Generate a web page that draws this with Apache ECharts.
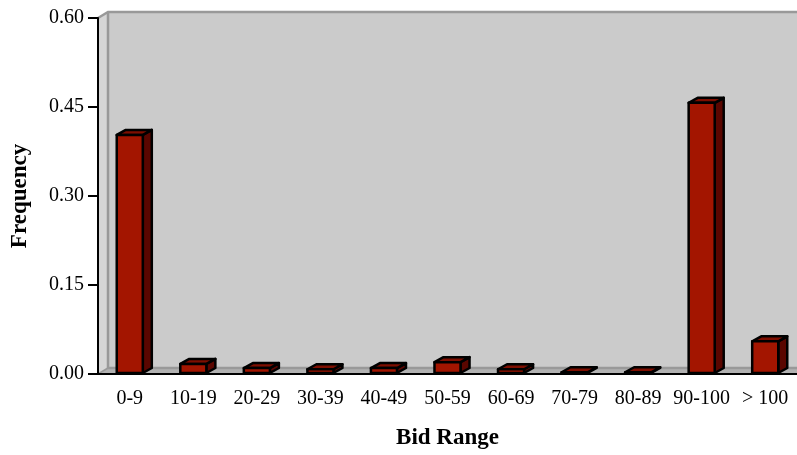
<!DOCTYPE html>
<html>
<head>
<meta charset="utf-8">
<script src="https://cdn.jsdelivr.net/npm/echarts@6/dist/echarts.min.js"></script>
<style>
  html, body { margin: 0; padding: 0; background: #fff; }
  #main { width: 797px; height: 455px; }
</style>
</head>
<body>
<div id="main"></div>
<script>
// data
const categories = ["0-9", "10-19", "20-29", "30-39", "40-49", "50-59", "60-69", "70-79", "80-89", "90-100", "> 100"];
const frequency = [0.403, 0.017, 0.010, 0.008, 0.010, 0.020, 0.008, 0.003, 0.003, 0.457, 0.055];
const yTicks = [0, 0.15, 0.30, 0.45, 0.60];

const FONT = "Liberation Serif";
// depth offsets of the fake 3d
const WALL_DX = 10, WALL_DY = -6;
const BAR_DX = 9, BAR_DY = -5;

var myChart = echarts.init(document.getElementById("main"));

// back wall, side wall and floor
function renderWall(params, api) {
  const c = params.coordSys;
  const l = c.x, t = c.y, r = c.x + c.width, b = c.y + c.height;
  return {
    type: "group",
    children: [
      { type: "polygon", shape: { points: [[l + WALL_DX, t + WALL_DY], [r + WALL_DX, t + WALL_DY], [r + WALL_DX, b + WALL_DY], [l + WALL_DX, b + WALL_DY]] },
        style: { fill: "#cbcbcb" } },
      { type: "polygon", shape: { points: [[l, t], [l + WALL_DX, t + WALL_DY], [l + WALL_DX, b + WALL_DY], [l, b]] },
        style: { fill: "#d6d6d6" } },
      { type: "polygon", shape: { points: [[l, b], [l + WALL_DX, b + WALL_DY], [r + WALL_DX, b + WALL_DY], [r, b]] },
        style: { fill: "#b2b2b2" } },
      { type: "polyline", shape: { points: [[l, t], [l + WALL_DX, t + WALL_DY], [r + WALL_DX, t + WALL_DY]] },
        style: { stroke: "#999", lineWidth: 2.5, fill: null } },
      { type: "polyline", shape: { points: [[l + WALL_DX, t + WALL_DY], [l + WALL_DX, b + WALL_DY], [r + WALL_DX, b + WALL_DY]] },
        style: { stroke: "#999", lineWidth: 2.5, fill: null } },
      { type: "line", shape: { x1: l, y1: b, x2: l + WALL_DX, y2: b + WALL_DY },
        style: { stroke: "#999", lineWidth: 1.5 } }
    ]
  };
}

// 3d looking bar: front, top and side faces
function renderBar(params, api) {
  const top = api.coord([api.value(0), api.value(1)]);
  const base = api.coord([api.value(0), 0]);
  const bw = api.size([1, 0])[0] * 0.41;
  const x0 = top[0] - bw / 2, x1 = top[0] + bw / 2;
  const y0 = top[1], y1 = base[1] - 1;
  const edge = { stroke: "#000", lineWidth: 2.5, lineJoin: "round" };
  return {
    type: "group",
    children: [
      { type: "polygon", shape: { points: [[x1, y0], [x1 + BAR_DX, y0 + BAR_DY], [x1 + BAR_DX, y1 + BAR_DY], [x1, y1]] },
        style: Object.assign({ fill: "#5a0600" }, edge) },
      { type: "polygon", shape: { points: [[x0, y0], [x0 + BAR_DX, y0 + BAR_DY], [x1 + BAR_DX, y0 + BAR_DY], [x1, y0]] },
        style: Object.assign({ fill: "#7e0e00" }, edge) },
      { type: "polygon", shape: { points: [[x0, y0], [x1, y0], [x1, y1], [x0, y1]] },
        style: Object.assign({ fill: "#a31500" }, edge) }
    ]
  };
}

myChart.setOption({
  animation: false,
  textStyle: { fontFamily: FONT },
  grid: { left: 98, top: 18, width: 700, height: 358 },
  xAxis: {
    type: "category",
    data: categories,
    name: "Bid Range",
    nameLocation: "middle",
    nameGap: 53,
    nameTextStyle: { fontFamily: FONT, fontSize: 23, fontWeight: "bold", color: "#000" },
    axisLine: { lineStyle: { color: "#000", width: 2 } },
    axisTick: { length: 8, lineStyle: { color: "#000", width: 2 } },
    axisLabel: { fontFamily: FONT, fontSize: 20, color: "#000", margin: 15, interval: 0 },
    splitLine: { show: false },
    z: 3
  },
  yAxis: {
    type: "value",
    min: yTicks[0],
    max: yTicks[yTicks.length - 1],
    interval: 0.15,
    name: "Frequency",
    nameLocation: "middle",
    nameGap: 66,
    nameRotate: 90,
    nameTextStyle: { fontFamily: FONT, fontSize: 23, fontWeight: "bold", color: "#000" },
    axisLine: { show: true, lineStyle: { color: "#000", width: 2 } },
    axisTick: { show: true, length: 10, lineStyle: { color: "#000", width: 2 } },
    axisLabel: { fontFamily: FONT, fontSize: 20, color: "#000", margin: 14,
      formatter: function (v) { return v.toFixed(2); } },
    splitLine: { show: false },
    z: 3
  },
  series: [
    {
      type: "custom",
      name: "wall",
      silent: true,
      z: 0,
      renderItem: renderWall,
      data: [[0, 0]]
    },
    {
      type: "custom",
      name: "Frequency",
      z: 2,
      renderItem: renderBar,
      encode: { x: 0, y: 1 },
      data: frequency.map(function (v, i) { return [i, v]; })
    }
  ]
});
</script>
</body>
</html>
